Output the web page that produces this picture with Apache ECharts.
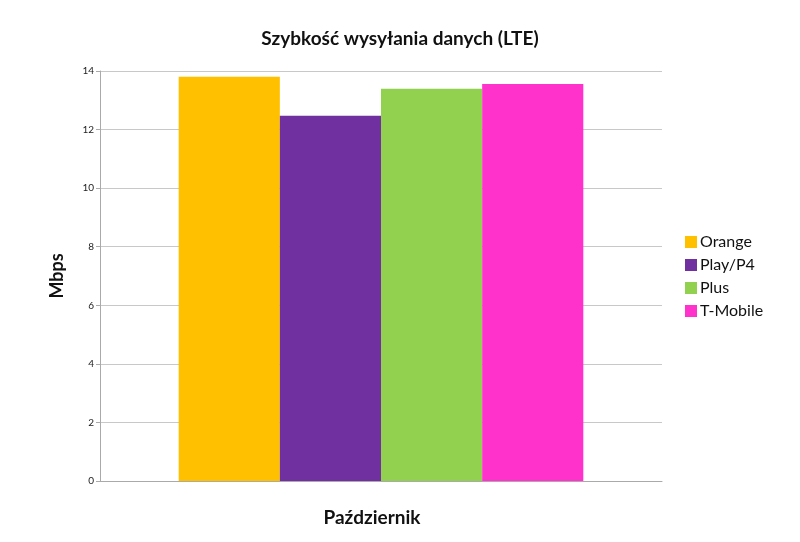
<!DOCTYPE html>
<html>
<head>
<meta charset="utf-8">
<script src="https://cdn.jsdelivr.net/npm/echarts@6/dist/echarts.min.js"></script>
<style>
  html, body { margin: 0; padding: 0; background: #fff; }
  #chart { width: 800px; height: 542px; }
</style>
</head>
<body>
<div id="chart"></div>
<script>
// dane
const categories = ['Październik']
const operators = ['Orange', 'Play/P4', 'Plus', 'T-Mobile']
const speeds = [13.8, 12.47, 13.39, 13.56]
const colors = ['#FFC000', '#7030A0', '#92D050', '#FF33CC']

const font = 'Lato, "Open Sans", sans-serif'

const series = operators.map((name, i) => ({
  name: name,
  type: 'bar',
  data: [speeds[i]],
  barGap: '0%',
  barCategoryGap: '28%',
  itemStyle: { color: colors[i] }
}))

const option = {
  animation: false,
  backgroundColor: '#fff',
  title: {
    text: 'Szybkość wysyłania danych (LTE)',
    left: 'center',
    top: 24,
    textStyle: { fontFamily: font, fontSize: 19, fontWeight: 'bold', color: '#111' }
  },
  legend: {
    orient: 'vertical',
    left: 680,
    top: 229,
    itemWidth: 12,
    itemHeight: 12,
    itemGap: 7,
    icon: 'rect',
    textStyle: { fontFamily: font, fontSize: 16, color: '#111', padding: [0, 0, 0, -2] }
  },
  grid: { left: 100, right: 138, top: 71, bottom: 61 },
  xAxis: {
    type: 'category',
    data: categories,
    axisLine: { lineStyle: { color: '#aaa' } },
    axisTick: { show: false },
    axisLabel: {
      margin: 27,
      padding: [0, 18, 0, 0],
      fontFamily: font, fontSize: 19, fontWeight: 'bold', color: '#111'
    }
  },
  yAxis: {
    type: 'value',
    min: 0,
    max: 14,
    interval: 2,
    name: 'Mbps',
    nameLocation: 'middle',
    nameGap: 34,
    nameTextStyle: { fontFamily: font, fontSize: 18, fontWeight: 'bold', color: '#111' },
    axisLine: { show: true, lineStyle: { color: '#aaa' } },
    axisTick: { show: true, length: 4, lineStyle: { color: '#aaa' } },
    axisLabel: { margin: 6, fontFamily: font, fontSize: 10, color: '#222' },
    splitLine: { lineStyle: { color: '#c8c8c8' } }
  },
  series: series
}

const chart = echarts.init(document.getElementById('chart'))
chart.setOption(option)
</script>
</body>
</html>
